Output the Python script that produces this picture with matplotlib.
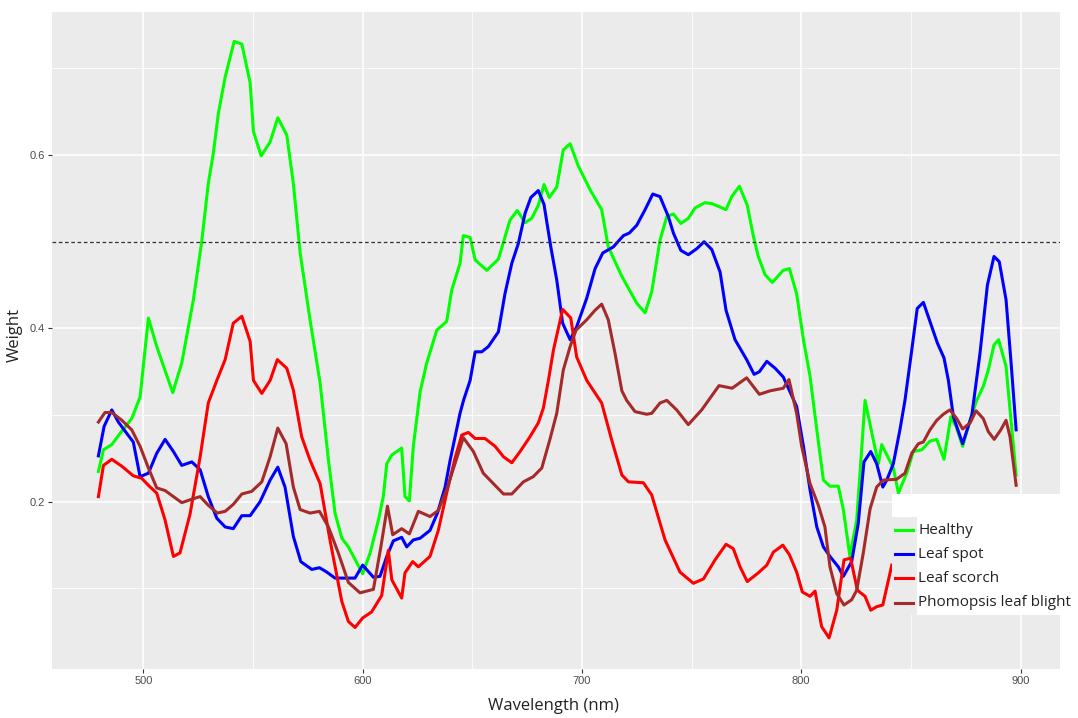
import matplotlib
matplotlib.use("Agg")
import matplotlib.pyplot as plt
from matplotlib.patches import Rectangle
from matplotlib.lines import Line2D

# Healthy
healthy_x = [479.5, 481.8, 485.6, 489.4, 494.7, 498.5, 502.3, 506.1, 513.4, 517.5, 522.8, 526.6,
             529.6, 531.9, 534.2, 537.3, 541.4, 544.9, 548.7, 550.2, 553.7, 557.8, 561.3, 565.4,
             568.4, 571.5, 576.0, 580.6, 584.4, 587.4, 590.5, 593.5, 600.0, 603.4, 607.2, 609.4,
             611.0, 613.3, 617.8, 619.3, 621.3, 623.1, 626.2, 629.2, 633.8, 638.3, 640.6, 644.4,
             645.9, 649.0, 651.3, 656.6, 661.9, 667.2, 670.5, 674.1, 677.1, 680.1, 682.7, 685.1,
             688.5, 691.5, 694.6, 698.4, 703.7, 709.0, 712.0, 718.2, 725.0, 728.8, 731.8, 735.6,
             738.7, 741.7, 745.1, 748.5, 751.6, 756.1, 759.2, 765.7, 768.3, 771.8, 775.4, 778.2,
             780.4, 783.5, 786.8, 791.8, 794.6, 797.9, 801.0, 804.0, 807.1, 810.1, 813.1, 816.9,
             819.2, 822.2, 825.3, 829.1, 832.9, 835.2, 836.7, 842.0, 844.3, 848.1, 851.1, 855.0,
             858.7, 861.8, 865.1, 868.2, 870.6, 873.6, 877.0, 880.0, 883.0, 885.3, 887.9, 890.0,
             893.4, 895.5, 898.0]
healthy_y = [0.235, 0.260, 0.266, 0.279, 0.296, 0.321, 0.412, 0.379, 0.326, 0.360, 0.433, 0.500,
             0.567, 0.602, 0.648, 0.690, 0.731, 0.728, 0.683, 0.627, 0.599, 0.615, 0.643, 0.623,
             0.567, 0.487, 0.410, 0.337, 0.248, 0.187, 0.158, 0.148, 0.117, 0.141, 0.179, 0.206,
             0.244, 0.254, 0.262, 0.206, 0.201, 0.264, 0.327, 0.360, 0.398, 0.408, 0.444, 0.475,
             0.507, 0.505, 0.479, 0.467, 0.480, 0.525, 0.536, 0.522, 0.527, 0.542, 0.566, 0.551,
             0.563, 0.606, 0.613, 0.587, 0.560, 0.537, 0.494, 0.460, 0.429, 0.418, 0.442, 0.502,
             0.529, 0.532, 0.521, 0.527, 0.539, 0.545, 0.544, 0.537, 0.552, 0.564, 0.542, 0.506,
             0.483, 0.462, 0.453, 0.467, 0.469, 0.440, 0.387, 0.345, 0.283, 0.225, 0.218, 0.218,
             0.191, 0.137, 0.179, 0.317, 0.271, 0.244, 0.266, 0.239, 0.210, 0.233, 0.258, 0.260,
             0.270, 0.272, 0.249, 0.298, 0.287, 0.264, 0.294, 0.317, 0.333, 0.352, 0.381, 0.387,
             0.356, 0.298, 0.231]

# Leaf spot
spot_x = [479.5, 482.1, 485.6, 488.6, 492.4, 495.4, 498.5, 502.3, 506.1, 509.9, 513.7, 517.5,
          522.1, 525.9, 529.6, 533.5, 537.3, 541.0, 544.9, 548.7, 553.2, 557.8, 561.3, 564.6,
          568.4, 571.8, 576.8, 580.3, 583.6, 587.4, 592.7, 596.5, 600.0, 604.9, 607.9, 611.0,
          614.0, 617.8, 620.1, 623.1, 626.2, 630.7, 634.1, 637.6, 639.9, 644.4, 646.0, 649.0,
          651.3, 654.3, 657.3, 661.9, 664.9, 668.0, 671.0, 674.1, 676.7, 680.1, 682.7, 685.8,
          688.5, 691.2, 694.6, 697.6, 702.2, 706.0, 709.5, 714.3, 718.9, 721.6, 725.0, 728.8,
          732.3, 735.6, 739.4, 741.7, 745.1, 748.5, 752.4, 755.7, 759.2, 763.0, 765.7, 769.8,
          775.1, 778.5, 780.9, 784.3, 788.1, 791.8, 797.9, 801.0, 804.0, 807.1, 810.1, 813.1,
          816.9, 819.2, 823.0, 826.0, 828.6, 831.7, 834.4, 837.2, 839.0, 842.0, 845.0, 847.3,
          850.4, 852.9, 855.7, 858.7, 862.1, 865.1, 867.1, 869.4, 873.6, 877.8, 881.5, 884.9,
          887.9, 890.3, 893.4, 895.7, 898.0]
spot_y = [0.253, 0.287, 0.306, 0.292, 0.279, 0.269, 0.229, 0.233, 0.256, 0.272, 0.258, 0.242,
          0.246, 0.237, 0.206, 0.181, 0.171, 0.169, 0.184, 0.184, 0.200, 0.225, 0.240, 0.217,
          0.160, 0.131, 0.122, 0.124, 0.119, 0.112, 0.112, 0.112, 0.127, 0.113, 0.114, 0.137,
          0.155, 0.159, 0.148, 0.156, 0.158, 0.167, 0.187, 0.217, 0.248, 0.302, 0.317, 0.340,
          0.373, 0.373, 0.379, 0.396, 0.440, 0.475, 0.498, 0.533, 0.551, 0.559, 0.543, 0.494,
          0.456, 0.406, 0.387, 0.402, 0.435, 0.469, 0.487, 0.494, 0.507, 0.510, 0.519, 0.537,
          0.555, 0.552, 0.529, 0.510, 0.490, 0.485, 0.492, 0.500, 0.491, 0.465, 0.421, 0.387,
          0.364, 0.347, 0.350, 0.362, 0.354, 0.344, 0.310, 0.264, 0.214, 0.171, 0.148, 0.137,
          0.125, 0.114, 0.131, 0.175, 0.246, 0.258, 0.244, 0.217, 0.225, 0.244, 0.283, 0.317,
          0.375, 0.423, 0.430, 0.408, 0.383, 0.366, 0.340, 0.298, 0.267, 0.300, 0.371, 0.450,
          0.483, 0.477, 0.433, 0.360, 0.283]

# Leaf scorch
scorch_x = [479.5, 481.8, 485.6, 490.2, 495.4, 499.3, 502.3, 506.1, 509.9, 513.7, 516.7, 521.3,
            525.9, 529.6, 533.5, 537.3, 541.0, 544.9, 548.7, 550.2, 554.0, 557.8, 561.1, 565.4,
            568.4, 572.2, 576.0, 580.6, 585.1, 590.5, 593.5, 596.5, 600.0, 604.1, 608.7, 611.7,
            613.3, 617.8, 619.3, 622.8, 625.4, 630.7, 634.5, 638.3, 642.1, 645.2, 648.2, 651.3,
            655.8, 660.4, 664.2, 668.0, 671.8, 676.3, 680.1, 682.4, 684.7, 687.0, 691.2, 694.9,
            697.6, 702.2, 709.0, 713.6, 718.2, 721.2, 728.0, 731.8, 737.9, 744.7, 750.8, 755.4,
            760.7, 765.7, 769.0, 772.1, 775.4, 780.4, 784.3, 787.3, 791.6, 794.6, 797.9, 800.5,
            804.0, 806.3, 809.3, 812.7, 816.2, 819.5, 822.5, 825.6, 829.1, 831.7, 834.4, 837.2,
            841.3]
scorch_y = [0.206, 0.242, 0.249, 0.241, 0.230, 0.227, 0.219, 0.210, 0.179, 0.137, 0.141, 0.186,
            0.252, 0.314, 0.340, 0.364, 0.406, 0.414, 0.385, 0.340, 0.325, 0.340, 0.364, 0.354,
            0.329, 0.275, 0.248, 0.221, 0.156, 0.085, 0.062, 0.055, 0.066, 0.073, 0.092, 0.144,
            0.110, 0.089, 0.118, 0.131, 0.125, 0.137, 0.167, 0.210, 0.250, 0.277, 0.280, 0.273,
            0.273, 0.264, 0.252, 0.245, 0.258, 0.275, 0.291, 0.308, 0.340, 0.375, 0.422, 0.412,
            0.367, 0.340, 0.314, 0.271, 0.231, 0.223, 0.222, 0.208, 0.156, 0.119, 0.106, 0.111,
            0.133, 0.151, 0.146, 0.125, 0.108, 0.118, 0.127, 0.142, 0.150, 0.139, 0.119, 0.096,
            0.091, 0.097, 0.056, 0.043, 0.075, 0.133, 0.135, 0.098, 0.091, 0.075, 0.079, 0.081,
            0.127]

# Phomopsis leaf blight
blight_x = [479.5, 482.5, 485.6, 490.2, 494.7, 498.5, 502.3, 506.1, 509.9, 513.7, 517.5, 522.1,
            525.9, 529.6, 533.7, 537.3, 541.0, 544.9, 549.4, 554.0, 557.8, 561.3, 565.1, 568.4,
            571.5, 576.0, 580.3, 584.4, 588.9, 593.5, 598.8, 604.9, 608.3, 611.3, 613.7, 617.8,
            621.3, 625.4, 630.7, 634.5, 638.3, 642.1, 645.9, 650.5, 655.0, 659.6, 664.2, 668.0,
            673.3, 677.8, 681.7, 685.5, 688.5, 691.5, 694.6, 697.3, 702.2, 706.0, 709.0, 712.0,
            715.1, 718.2, 720.4, 724.2, 729.5, 731.8, 735.6, 738.7, 743.2, 748.5, 754.6, 762.5,
            768.5, 775.1, 780.9, 785.8, 791.8, 794.4, 797.9, 800.2, 804.0, 807.8, 810.8, 813.1,
            816.2, 819.5, 823.0, 825.3, 828.3, 831.4, 834.4, 837.4, 843.5, 847.3, 850.4, 853.4,
            855.7, 858.7, 861.8, 864.8, 867.8, 870.9, 873.6, 877.0, 879.7, 883.0, 885.3, 888.0,
            891.0, 893.4, 895.2, 898.0]
blight_y = [0.292, 0.303, 0.303, 0.294, 0.283, 0.264, 0.239, 0.216, 0.213, 0.206, 0.199, 0.203,
            0.206, 0.196, 0.187, 0.189, 0.197, 0.209, 0.212, 0.223, 0.252, 0.285, 0.267, 0.217,
            0.191, 0.187, 0.189, 0.171, 0.141, 0.107, 0.095, 0.099, 0.148, 0.195, 0.162, 0.169,
            0.163, 0.189, 0.183, 0.190, 0.214, 0.244, 0.274, 0.258, 0.233, 0.221, 0.209, 0.209,
            0.223, 0.229, 0.239, 0.273, 0.302, 0.352, 0.379, 0.398, 0.410, 0.421, 0.428, 0.410,
            0.371, 0.328, 0.317, 0.304, 0.301, 0.302, 0.314, 0.317, 0.306, 0.289, 0.306, 0.334,
            0.331, 0.343, 0.324, 0.328, 0.331, 0.341, 0.302, 0.264, 0.221, 0.196, 0.171, 0.125,
            0.094, 0.081, 0.087, 0.098, 0.141, 0.192, 0.217, 0.225, 0.226, 0.233, 0.256, 0.267,
            0.269, 0.283, 0.294, 0.301, 0.306, 0.296, 0.284, 0.291, 0.305, 0.296, 0.281, 0.272,
            0.283, 0.294, 0.275, 0.219]

series = [
    ("Healthy", healthy_x, healthy_y, "#00FF00"),
    ("Leaf spot", spot_x, spot_y, "#0000FF"),
    ("Leaf scorch", scorch_x, scorch_y, "#FF0000"),
    ("Phomopsis leaf blight", blight_x, blight_y, "#A52A2A"),
]
threshold = 0.5

W, H = 1078, 718
fig = plt.figure(figsize=(W / 100, H / 100), dpi=100)
ax = fig.add_axes([51.7 / W, 1 - 669.3 / H, (1060 - 51.7) / W, (669.3 - 11.7) / H])
ax.set_facecolor("#EBEBEB")
for s in ax.spines.values():
    s.set_visible(False)

ax.set_xlim(458.2, 918)
ax.set_ylim(0.0068, 0.7653)
ax.set_xticks([500, 600, 700, 800, 900])
ax.set_xticks([550, 650, 750, 850], minor=True)
ax.set_yticks([0.2, 0.4, 0.6])
ax.set_yticklabels(["0.2", "0.4", "0.6"])
ax.set_yticks([0.1, 0.3, 0.5, 0.7], minor=True)
ax.grid(which="major", color="white", lw=1.1)
ax.grid(which="minor", color="white", lw=0.6)
ax.set_axisbelow(True)
ax.tick_params(which="major", length=3, width=0.8, color="#333333",
               labelcolor="#4D4D4D", labelsize=8, pad=2)
ax.tick_params(which="minor", length=0)
for lab in ax.get_xticklabels() + ax.get_yticklabels():
    lab.set_family("Liberation Sans")

for name, xs, ys, col in series:
    ax.plot(xs, ys, color=col, lw=2.2, solid_joinstyle="round")

ax.axhline(threshold, color="#333333", lw=0.9, ls=(0, (3, 2)))

title_font = "Open Sans"
fig.text(553 / W, 1 - 706 / H, "Wavelength (nm)", ha="center", va="center",
         fontsize=12, family=title_font, color="#222222")
fig.text(15 / W, 1 - 335 / H, "Weight", ha="center", va="center", rotation=90,
         fontsize=12, family=title_font, color="#222222")

# legend block drawn over the panel
def fig_rect(x0, y0, x1, y1, color):
    fig.add_artist(Rectangle((x0 / W, 1 - y1 / H), (x1 - x0) / W, (y1 - y0) / H,
                             transform=fig.transFigure, facecolor=color,
                             edgecolor="none", zorder=5))

fig_rect(892, 494, 1078, 517, "white")
fig_rect(917, 517, 1078, 615, "white")
fig_rect(892, 517, 917, 615, "#EBEBEB")

rows = [530, 554, 578.3, 602.7]
for (name, xs, ys, col), ry in zip(series, rows):
    fig.add_artist(Line2D([895 / W, 913 / W], [1 - ry / H, 1 - ry / H],
                          transform=fig.transFigure, color=col, lw=2.2, zorder=6))
    fig.text(918 / W, 1 - ry / H, name, ha="left", va="center", fontsize=11,
             family=title_font, color="#222222", zorder=6)

fig.savefig("out.png", dpi=100, facecolor="white")
